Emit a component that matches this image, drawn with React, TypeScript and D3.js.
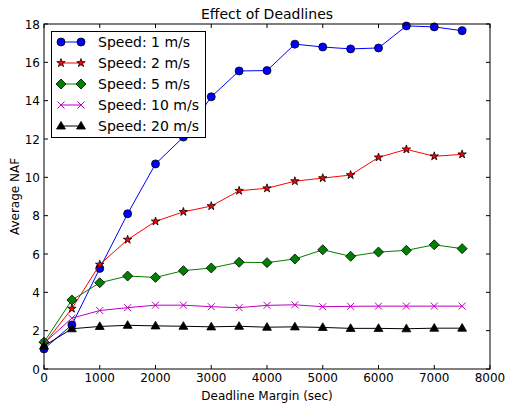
import React from "react";
import * as d3 from "d3";

const xs = [0, 500, 1000, 1500, 2000, 2500, 3000, 3500, 4000, 4500, 5000, 5500, 6000, 6500, 7000, 7500];
const speed1 = [1.05, 2.3, 5.25, 8.1, 10.7, 12.1, 14.2, 15.55, 15.57, 16.95, 16.8, 16.7, 16.75, 17.9, 17.85, 17.65];
const speed2 = [1.3, 3.15, 5.45, 6.75, 7.7, 8.2, 8.5, 9.3, 9.43, 9.8, 9.96, 10.12, 11.04, 11.46, 11.1, 11.2];
const speed5 = [1.4, 3.6, 4.5, 4.85, 4.78, 5.13, 5.27, 5.57, 5.55, 5.74, 6.22, 5.88, 6.1, 6.19, 6.48, 6.28];
const speed10 = [1.35, 2.65, 3.05, 3.2, 3.33, 3.33, 3.25, 3.2, 3.32, 3.35, 3.25, 3.27, 3.28, 3.28, 3.28, 3.28];
const speed20 = [1.2, 2.1, 2.22, 2.28, 2.25, 2.23, 2.2, 2.23, 2.18, 2.2, 2.17, 2.12, 2.12, 2.1, 2.13, 2.13];
const xTicks = [0, 1000, 2000, 3000, 4000, 5000, 6000, 7000, 8000];
const yTicks = [0, 2, 4, 6, 8, 10, 12, 14, 16, 18];

const series = [
  { name: "Speed: 1 m/s", values: speed1, color: "#0000ff", marker: "circle" },
  { name: "Speed: 2 m/s", values: speed2, color: "#ff0000", marker: "star" },
  { name: "Speed: 5 m/s", values: speed5, color: "#008000", marker: "diamond" },
  { name: "Speed: 10 m/s", values: speed10, color: "#bf00bf", marker: "x" },
  { name: "Speed: 20 m/s", values: speed20, color: "#000000", marker: "triangle" },
];

const left = 44, right = 490, top = 24, bottom = 369;
const FONT = "DejaVu Sans, sans-serif";

function Marker({ type, x, y, color }: { type: string; x: number; y: number; color: string }) {
  if (type === "circle") return <circle cx={x} cy={y} r={4} fill={color} stroke="#000" strokeWidth={0.8} />;
  if (type === "diamond") {
    const s = 5;
    return <path d={`M${x},${y - s}L${x + s},${y}L${x},${y + s}L${x - s},${y}Z`} fill={color} stroke="#000" strokeWidth={0.8} />;
  }
  if (type === "star") {
    const p = d3.symbol(d3.symbolStar, 22)();
    return <path d={p as string} transform={`translate(${x},${y})`} fill={color} stroke="#000" strokeWidth={0.8} />;
  }
  if (type === "triangle") {
    const p = d3.symbol(d3.symbolTriangle, 34)();
    return <path d={p as string} transform={`translate(${x},${y + 0.5})`} fill={color} stroke="#000" strokeWidth={0.8} />;
  }
  const s = 3.5;
  return (
    <path d={`M${x - s},${y - s}L${x + s},${y + s}M${x - s},${y + s}L${x + s},${y - s}`} stroke={color} strokeWidth={1} fill="none" />
  );
}

export default function App() {
  const x = d3.scaleLinear().domain([0, 8000]).range([left, right]);
  const y = d3.scaleLinear().domain([0, 18]).range([bottom, top]);
  const line = d3.line<number>().x((_, i) => x(xs[i])).y((v) => y(v));

  return (
    <svg width={505} height={405} style={{ position: "absolute", left: 0, top: 0 }} fontFamily={FONT}>
      <rect x={0} y={0} width={505} height={405} fill="#fff" />
      <text x={(left + right) / 2} y={19} textAnchor="middle" fontSize={14}>Effect of Deadlines</text>
      {xTicks.map((t) => (
        <g key={"x" + t}>
          <line x1={x(t)} x2={x(t)} y1={bottom} y2={bottom - 4} stroke="#000" />
          <line x1={x(t)} x2={x(t)} y1={top} y2={top + 4} stroke="#000" />
          <text x={x(t)} y={bottom + 13} textAnchor="middle" fontSize={12}>{t}</text>
        </g>
      ))}
      {yTicks.map((t) => (
        <g key={"y" + t}>
          <line x1={left} x2={left + 4} y1={y(t)} y2={y(t)} stroke="#000" />
          <line x1={right} x2={right - 4} y1={y(t)} y2={y(t)} stroke="#000" />
          <text x={left - 4} y={y(t) + 4.5} textAnchor="end" fontSize={12}>{t}</text>
        </g>
      ))}
      <text x={(left + right) / 2} y={400} textAnchor="middle" fontSize={12}>Deadline Margin (sec)</text>
      <text transform={`translate(19,${(top + bottom) / 2}) rotate(-90)`} textAnchor="middle" fontSize={12}>Average NAF</text>
      <defs>
        <clipPath id="clip">
          <rect x={left - 6} y={top - 6} width={right - left + 12} height={bottom - top + 12} />
        </clipPath>
      </defs>
      <g clipPath="url(#clip)">
        {series.map((s) => (
          <g key={s.name}>
            <path d={line(s.values) as string} fill="none" stroke={s.color} strokeWidth={1} />
            {s.values.map((v, i) => (
              <Marker key={i} type={s.marker} x={x(xs[i])} y={y(v)} color={s.color} />
            ))}
          </g>
        ))}
      </g>
      <rect x={left} y={top} width={right - left} height={bottom - top} fill="none" stroke="#000" strokeWidth={1} />
      <rect x={51.5} y={31.5} width={154} height={106} fill="#fff" stroke="#000" strokeWidth={1} />
      {series.map((s, i) => {
        const ly = 42 + i * 21;
        return (
          <g key={"l" + s.name}>
            <line x1={61} x2={81} y1={ly} y2={ly} stroke={s.color} strokeWidth={1} />
            <Marker type={s.marker} x={61} y={ly} color={s.color} />
            <Marker type={s.marker} x={81} y={ly} color={s.color} />
            <text x={98} y={ly + 5} fontSize={14}>{s.name}</text>
          </g>
        );
      })}
    </svg>
  );
}
